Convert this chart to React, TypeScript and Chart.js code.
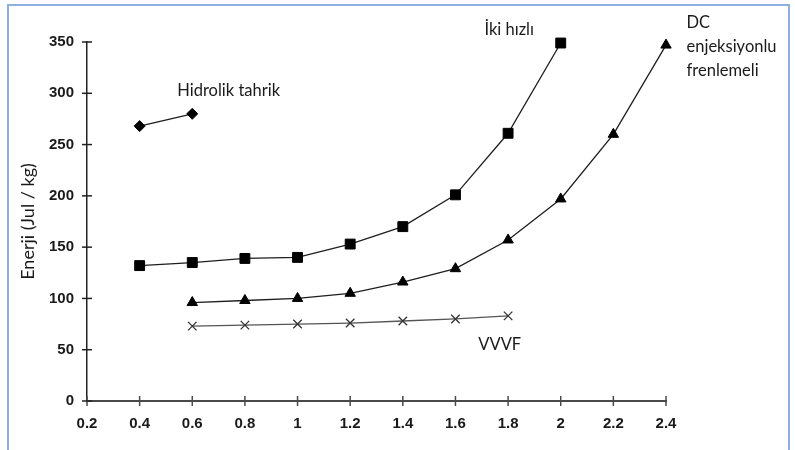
import React, { useEffect, useRef } from "react";
import { Chart, registerables } from "chart.js";

Chart.register(...registerables);

// ---- data ----
const xTickValues = [0.2, 0.4, 0.6, 0.8, 1.0, 1.2, 1.4, 1.6, 1.8, 2.0, 2.2, 2.4];
const xTickLabels = ["0.2", "0.4", "0.6", "0.8", "1", "1.2", "1.4", "1.6", "1.8", "2", "2.2", "2.4"];
const yTickValues = [0, 50, 100, 150, 200, 250, 300, 350];
const yTickLabels = ["0", "50", "100", "150", "200", "250", "300", "350"];

const hidrolikX = [0.4, 0.6];
const hidrolikY = [268, 280];

const ikiHizliX = [0.4, 0.6, 0.8, 1.0, 1.2, 1.4, 1.6, 1.8, 2.0];
const ikiHizliY = [132, 135, 139, 140, 153, 170, 201, 261, 349];

const dcX = [0.6, 0.8, 1.0, 1.2, 1.4, 1.6, 1.8, 2.0, 2.2, 2.4];
const dcY = [96, 98, 100, 105, 116, 129, 157, 197, 260, 347];

const vvvfX = [0.6, 0.8, 1.0, 1.2, 1.4, 1.6, 1.8];
const vvvfY = [73, 74, 75, 76, 78, 80, 83];

const yTitle = "Enerji (Jul / kg)";

// annotation labels, anchored in data coordinates (left / baseline)
const labelTexts = [["Hidrolik tahrik"], ["İki hızlı"], ["DC", "enjeksiyonlu", "frenlemeli"], ["VVVF"]];
const labelX = [0.543, 1.71, 2.478, 1.687];
const labelY = [297, 356.5, 363.5, 49.7];

const TEXT_FONT = "Lato, 'Open Sans', sans-serif";

const toPoints = (xs: number[], ys: number[]) => xs.map((x, i) => ({ x, y: ys[i] }));

const crossTicksPlugin = {
  id: "crossTicks",
  afterDraw(chart: any) {
    const { ctx, scales } = chart;
    const xs = scales.x;
    const ys = scales.y;
    ctx.save();
    ctx.strokeStyle = "#4a4a4a";
    ctx.lineWidth = 1.5;
    xs.ticks.forEach((t: any) => {
      const px = xs.getPixelForValue(t.value);
      ctx.beginPath();
      ctx.moveTo(px, ys.bottom - 5);
      ctx.lineTo(px, ys.bottom + 5);
      ctx.stroke();
    });
    ctx.strokeStyle = "#222";
    ys.ticks.forEach((t: any) => {
      const py = ys.getPixelForValue(t.value);
      ctx.beginPath();
      ctx.moveTo(xs.left - 5, py);
      ctx.lineTo(xs.left + 5, py);
      ctx.stroke();
    });
    ctx.restore();
  },
};

const labelsPlugin = {
  id: "seriesLabels",
  afterDraw(chart: any) {
    const { ctx, scales } = chart;
    ctx.save();
    ctx.fillStyle = "#1a1a1a";
    ctx.font = `16.5px ${TEXT_FONT}`;
    ctx.textAlign = "left";
    ctx.textBaseline = "alphabetic";
    labelTexts.forEach((lines, i) => {
      const px = scales.x.getPixelForValue(labelX[i]);
      const py = scales.y.getPixelForValue(labelY[i]);
      lines.forEach((line, j) => {
        ctx.fillText(line, px, py + j * 24);
      });
    });
    ctx.restore();
  },
};

export default function App() {
  const canvasRef = useRef<HTMLCanvasElement | null>(null);

  useEffect(() => {
    document.body.style.margin = "0";
    const canvas = canvasRef.current;
    if (!canvas) return;
    const lineBase = {
      showLine: true,
      borderColor: "#1e1e1e",
      borderWidth: 1.3,
      pointBackgroundColor: "#000",
      pointBorderColor: "#000",
      pointBorderWidth: 1,
      clip: false as any,
      tension: 0,
    };
    const chart = new Chart(canvas, {
      type: "scatter",
      data: {
        datasets: [
          {
            ...lineBase,
            label: "Hidrolik tahrik",
            data: toPoints(hidrolikX, hidrolikY),
            pointStyle: "rectRot",
            pointRadius: 5.5,
          },
          {
            ...lineBase,
            label: "İki hızlı",
            data: toPoints(ikiHizliX, ikiHizliY),
            pointStyle: "rect",
            pointRadius: 7,
          },
          {
            ...lineBase,
            label: "DC enjeksiyonlu frenlemeli",
            data: toPoints(dcX, dcY),
            pointStyle: "triangle",
            pointRadius: 6,
          },
          {
            ...lineBase,
            label: "VVVF",
            data: toPoints(vvvfX, vvvfY),
            borderColor: "#555",
            pointStyle: "crossRot",
            pointRadius: 6,
            pointBorderColor: "#333",
            pointBorderWidth: 1.3,
          },
        ] as any,
      },
      options: {
        animation: false,
        responsive: false,
        maintainAspectRatio: false,
        devicePixelRatio: 1,
        layout: { padding: { left: 7, top: 42, right: 129, bottom: 0 } },
        plugins: {
          legend: { display: false },
          tooltip: { enabled: false },
        },
        scales: {
          x: {
            type: "linear",
            min: 0.2,
            max: 2.4,
            afterBuildTicks: (scale: any) => {
              scale.ticks = xTickValues.map((v) => ({ value: v }));
            },
            afterFit: (scale: any) => {
              scale.height = 49;
            },
            grid: { display: true, drawOnChartArea: false, drawTicks: false },
            border: { display: true, color: "#4a4a4a", width: 2 },
            ticks: {
              padding: 14,
              maxRotation: 0,
              autoSkip: false,
              color: "#1a1a1a",
              font: { family: "'Liberation Sans', Arial, sans-serif", size: 15, weight: "bold" },
              callback: (_v: any, i: number) => xTickLabels[i],
            },
          },
          y: {
            type: "linear",
            min: 0,
            max: 350,
            afterBuildTicks: (scale: any) => {
              scale.ticks = yTickValues.map((v) => ({ value: v }));
            },
            afterFit: (scale: any) => {
              scale.width = 80;
            },
            grid: { display: true, drawOnChartArea: false, drawTicks: false },
            border: { display: true, color: "#222", width: 1.5 },
            title: {
              display: true,
              text: yTitle,
              color: "#1a1a1a",
              font: { family: TEXT_FONT, size: 18, weight: "normal" },
              padding: { top: 10, bottom: 0 },
            },
            ticks: {
              padding: 13,
              autoSkip: false,
              color: "#1a1a1a",
              font: { family: "'Liberation Sans', Arial, sans-serif", size: 15, weight: "bold" },
              callback: (_v: any, i: number) => yTickLabels[i],
            },
          },
        },
      } as any,
      plugins: [crossTicksPlugin, labelsPlugin],
    });
    return () => chart.destroy();
  }, []);

  return (
    <div
      style={{
        position: "fixed",
        left: 0,
        top: 0,
        width: 795,
        height: 450,
        overflow: "hidden",
        background: "#fff",
      }}
    >
      <canvas ref={canvasRef} width={795} height={450} style={{ position: "absolute", left: 0, top: 0 }} />
      <div
        style={{
          position: "absolute",
          left: 7,
          top: 4,
          width: 783,
          height: 500,
          boxSizing: "border-box",
          border: "2px solid #8fb0de",
          pointerEvents: "none",
        }}
      />
    </div>
  );
}
